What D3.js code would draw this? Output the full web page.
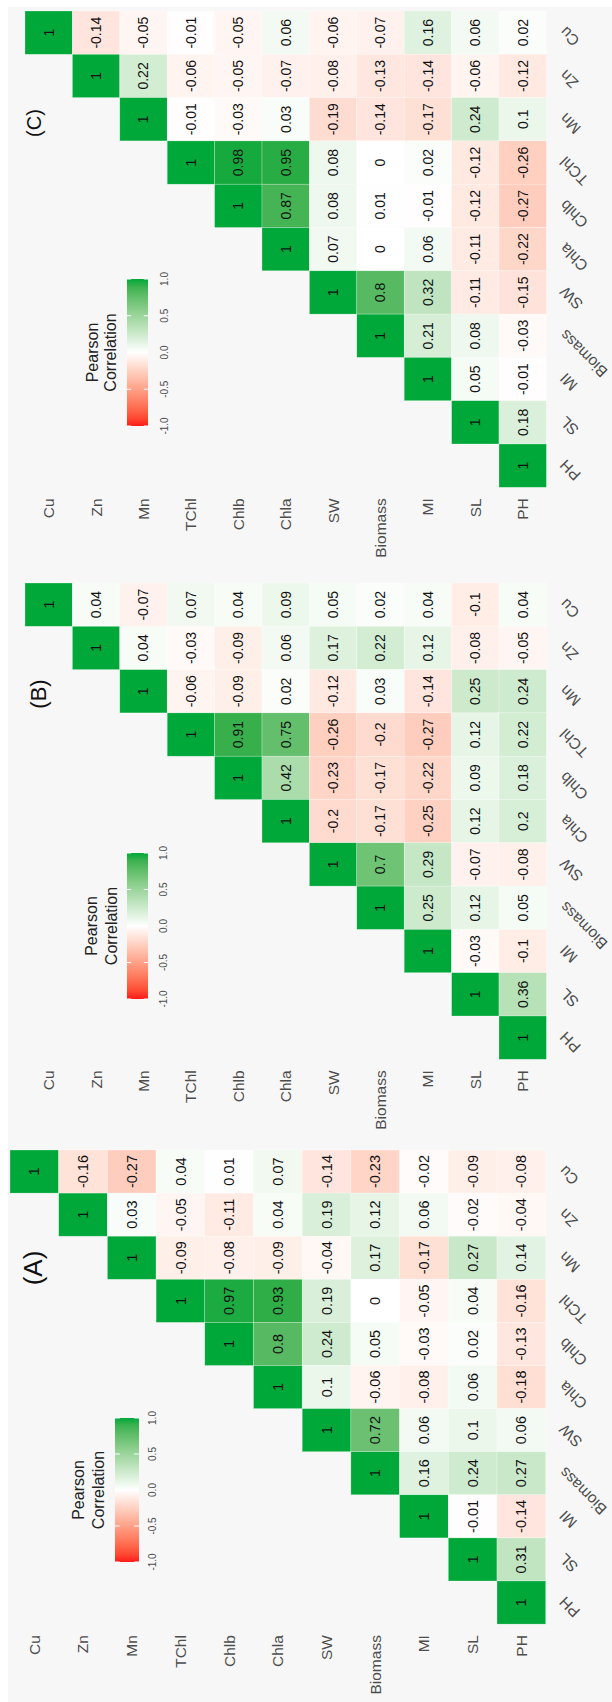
<!DOCTYPE html>
<html><head><meta charset="utf-8">
<script src="https://cdn.jsdelivr.net/npm/d3@7"></script>
<style>
body{margin:0;background:#fff}
svg{display:block}
text{font-family:"Liberation Sans",Arial,Helvetica,sans-serif}
</style>
</head><body>
<svg id="chart" width="612" height="1702"></svg>
<script>
// ---------- data ----------
const variables = ["Cu","Zn","Mn","TChl","Chlb","Chla","SW","Biomass","MI","SL","PH"];
const panelLabels = ["(C)","(B)","(A)"];
const legendBreaks = [-1, -0.5, 0, 0.5, 1];
const legendTitle = ["Pearson", "Correlation"];

// each row j lists correlations of variables[j] with variables[j..10]
const corrC = [
  [1, -0.14, -0.05, -0.01, -0.05, 0.06, -0.06, -0.07, 0.16, 0.06, 0.02],
  [1, 0.22, -0.06, -0.05, -0.07, -0.08, -0.13, -0.14, -0.06, -0.12],
  [1, -0.01, -0.03, 0.03, -0.19, -0.14, -0.17, 0.24, 0.1],
  [1, 0.98, 0.95, 0.08, 0, 0.02, -0.12, -0.26],
  [1, 0.87, 0.08, 0.01, -0.01, -0.12, -0.27],
  [1, 0.07, 0, 0.06, -0.11, -0.22],
  [1, 0.8, 0.32, -0.11, -0.15],
  [1, 0.21, 0.08, -0.03],
  [1, 0.05, -0.01],
  [1, 0.18],
  [1]
];
const corrB = [
  [1, 0.04, -0.07, 0.07, 0.04, 0.09, 0.05, 0.02, 0.04, -0.1, 0.04],
  [1, 0.04, -0.03, -0.09, 0.06, 0.17, 0.22, 0.12, -0.08, -0.05],
  [1, -0.06, -0.09, 0.02, -0.12, 0.03, -0.14, 0.25, 0.24],
  [1, 0.91, 0.75, -0.26, -0.2, -0.27, 0.12, 0.22],
  [1, 0.42, -0.23, -0.17, -0.22, 0.09, 0.18],
  [1, -0.2, -0.17, -0.25, 0.12, 0.2],
  [1, 0.7, 0.29, -0.07, -0.08],
  [1, 0.25, 0.12, 0.05],
  [1, -0.03, -0.1],
  [1, 0.36],
  [1]
];
const corrA = [
  [1, -0.16, -0.27, 0.04, 0.01, 0.07, -0.14, -0.23, -0.02, -0.09, -0.08],
  [1, 0.03, -0.05, -0.11, 0.04, 0.19, 0.12, 0.06, -0.02, -0.04],
  [1, -0.09, -0.08, -0.09, -0.04, 0.17, -0.17, 0.27, 0.14],
  [1, 0.97, 0.93, 0.19, 0, -0.05, 0.04, -0.16],
  [1, 0.8, 0.24, 0.05, -0.03, 0.02, -0.13],
  [1, 0.1, -0.06, -0.08, 0.06, -0.18],
  [1, 0.72, 0.06, 0.1, 0.06],
  [1, 0.16, 0.24, 0.27],
  [1, -0.01, -0.14],
  [1, 0.31],
  [1]
];
const panelData = [corrC, corrB, corrA];

// ---------- layout / style ----------
const layouts = [
  {x0:25, y0:11,   cw:47.4, ch:43.3, lab:[34,123],  labSize:20, barX:127, barW:21, barTop:279,  barBot:426,  titleX:[92,110], tickX:164, cellFont:14},
  {x0:25, y0:583,  cw:47.4, ch:43.3, lab:[38,694],  labSize:22, barX:127, barW:21, barTop:853,  barBot:999,  titleX:[91,111], tickX:163, cellFont:14},
  {x0:10, y0:1150, cw:48.7, ch:43.1, lab:[33,1268], labSize:26, barX:115, barW:24, barTop:1418, barBot:1562, titleX:[78,98],  tickX:152, cellFont:14.5}
];
const colorLow = "#ff1a1a", colorMid = "#ffffff", colorHigh = "#00a83a";
const color = d3.scaleLinear().domain([-1, 0, 1]).range([colorLow, colorMid, colorHigh]).interpolate(d3.interpolateLab);

const svg = d3.select("#chart");
svg.append("rect").attr("x", 8).attr("y", 7).attr("width", 604).attr("height", 1695).attr("fill", "#f7f7f7");

const defs = svg.append("defs");
const grad = defs.append("linearGradient").attr("id", "legGrad").attr("x1", 0).attr("y1", 1).attr("x2", 0).attr("y2", 0);
d3.range(0, 21).forEach(k => {
  const v = -1 + k * 0.1;
  grad.append("stop").attr("offset", (k / 20)).attr("stop-color", color(v));
});

panelData.forEach((data, p) => {
  const L = layouts[p];
  const g = svg.append("g");
  const x = d3.scaleBand().domain(variables).range([L.x0, L.x0 + L.cw * variables.length]);
  const y = d3.scaleBand().domain(variables).range([L.y0, L.y0 + L.ch * variables.length]);
  const cells = [];
  data.forEach((row, j) => row.forEach((v, k) => cells.push({col: variables[j + k], row: variables[j], v})));

  g.selectAll("rect.cell").data(cells).join("rect")
    .attr("class", "cell")
    .attr("x", d => x(d.col)).attr("y", d => y(d.row))
    .attr("width", x.bandwidth()).attr("height", y.bandwidth())
    .attr("fill", d => color(d.v))
    .attr("stroke", "#ffffff").attr("stroke-width", 0.5).attr("stroke-opacity", 0.5);

  g.selectAll("text.val").data(cells).join("text")
    .attr("class", "val")
    .attr("transform", d => `translate(${x(d.col) + x.bandwidth() / 2},${y(d.row) + y.bandwidth() / 2}) rotate(-90)`)
    .attr("text-anchor", "middle").attr("dy", "0.35em")
    .attr("font-size", L.cellFont).attr("fill", "#111")
    .text(d => String(d.v));

  const gridBottom = y.range()[1], gridRight = x.range()[1];
  // bottom labels (columns)
  g.selectAll("text.blab").data(variables).join("text")
    .attr("class", "blab")
    .attr("transform", d => `translate(${x(d) + x.bandwidth() / 2},${gridBottom + 11}) rotate(-90)`)
    .attr("text-anchor", "end").attr("dy", "0.35em")
    .attr("font-size", 15.5).attr("fill", "#4d4d4d")
    .text(d => d);
  // right labels (rows), diagonal
  g.selectAll("text.rlab").data(variables).join("text")
    .attr("class", "rlab")
    .attr("transform", d => `translate(${gridRight + 20},${y(d) + y.bandwidth() / 2 - 7}) rotate(-135)`)
    .attr("text-anchor", "end")
    .attr("font-size", 15.5).attr("fill", "#4d4d4d")
    .text(d => d);

  // panel label
  g.append("text")
    .attr("transform", `translate(${L.lab[0]},${L.lab[1]}) rotate(-90)`)
    .attr("text-anchor", "middle").attr("dy", "0.35em")
    .attr("font-size", L.labSize).attr("fill", "#111")
    .text(panelLabels[p]);

  // legend
  const ls = d3.scaleLinear().domain([-1, 1]).range([L.barBot, L.barTop]);
  g.append("rect").attr("x", L.barX).attr("y", L.barTop).attr("width", L.barW).attr("height", L.barBot - L.barTop)
    .attr("fill", "url(#legGrad)");
  const tk = L.barW / 5;
  g.selectAll("line.tk").data(legendBreaks.flatMap(b => [[b, 0], [b, 1]])).join("line")
    .attr("class", "tk")
    .attr("x1", d => d[1] ? L.barX + L.barW - tk : L.barX).attr("x2", d => d[1] ? L.barX + L.barW : L.barX + tk)
    .attr("y1", d => ls(d[0])).attr("y2", d => ls(d[0]))
    .attr("stroke", "#ffffff").attr("stroke-width", 1);
  g.selectAll("text.tl").data(legendBreaks).join("text")
    .attr("class", "tl")
    .attr("transform", d => `translate(${L.tickX},${ls(d)}) rotate(-90)`)
    .attr("text-anchor", "middle").attr("dy", "0.35em")
    .attr("font-size", 10).attr("fill", "#4d4d4d")
    .text(d => d3.format(".1f")(d).replace("−", "-"));
  const ty = (L.barTop + L.barBot) / 2;
  g.selectAll("text.tt").data(legendTitle).join("text")
    .attr("class", "tt")
    .attr("transform", (d, i) => `translate(${L.titleX[i]},${ty}) rotate(-90)`)
    .attr("text-anchor", "middle").attr("dy", "0.35em")
    .attr("font-size", 16).attr("fill", "#222")
    .text(d => d);
});
</script>
</body></html>
